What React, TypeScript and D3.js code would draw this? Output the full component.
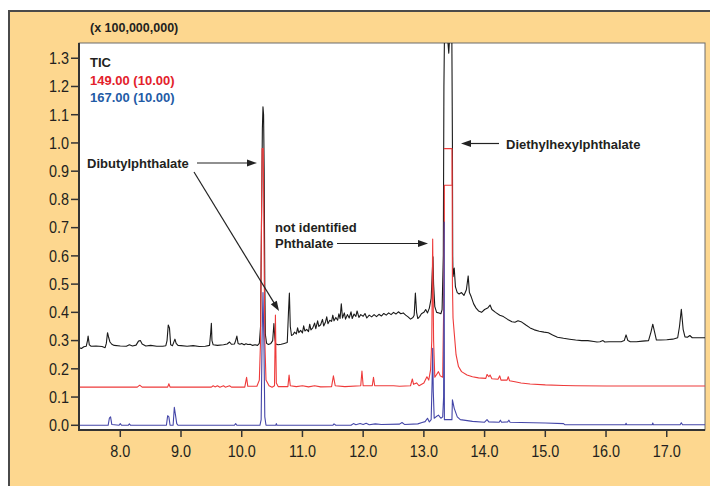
import React from "react";
import * as d3 from "d3";

// retention time (min) vs abundance (x 100,000,000)
const ticData: [number, number][] = [
  [7.32, 0.275], [7.36, 0.272], [7.4, 0.278], [7.44, 0.28], [7.46, 0.3], [7.47, 0.316], [7.49, 0.285], [7.52, 0.28],
  [7.6, 0.281], [7.7, 0.279], [7.75, 0.275], [7.77, 0.29], [7.79, 0.328], [7.81, 0.31], [7.83, 0.295], [7.86, 0.287],
  [7.9, 0.283], [8.0, 0.281], [8.1, 0.28], [8.15, 0.285], [8.2, 0.281], [8.26, 0.284], [8.3, 0.298], [8.33, 0.3],
  [8.36, 0.288], [8.42, 0.281], [8.5, 0.283], [8.6, 0.28], [8.7, 0.28], [8.75, 0.282], [8.77, 0.3], [8.79, 0.355],
  [8.81, 0.345], [8.83, 0.285], [8.86, 0.282], [8.9, 0.305], [8.92, 0.29], [8.95, 0.283], [9.0, 0.282], [9.1, 0.28],
  [9.2, 0.282], [9.3, 0.279], [9.4, 0.28], [9.47, 0.283], [9.49, 0.33], [9.5, 0.361], [9.51, 0.3], [9.53, 0.285],
  [9.6, 0.283], [9.7, 0.285], [9.76, 0.288], [9.8, 0.295], [9.83, 0.287], [9.88, 0.288], [9.9, 0.3], [9.92, 0.316],
  [9.94, 0.29], [9.97, 0.287], [10.0, 0.29], [10.04, 0.285], [10.07, 0.289], [10.1, 0.286], [10.14, 0.287],
  [10.18, 0.283], [10.22, 0.285], [10.26, 0.283], [10.29, 0.29], [10.31, 0.35], [10.325, 0.7], [10.34, 1.05],
  [10.35, 1.128], [10.36, 1.1], [10.37, 0.9], [10.38, 0.5], [10.39, 0.32], [10.41, 0.29], [10.44, 0.286],
  [10.48, 0.29], [10.51, 0.3], [10.53, 0.36], [10.545, 0.31], [10.56, 0.288], [10.6, 0.285], [10.65, 0.287],
  [10.7, 0.29], [10.75, 0.293], [10.77, 0.4], [10.785, 0.468], [10.8, 0.35], [10.82, 0.318], [10.85, 0.322],
  [10.87, 0.33], [10.9, 0.324], [10.92, 0.345], [10.94, 0.328], [10.97, 0.336], [11.0, 0.327], [11.02, 0.352],
  [11.04, 0.334], [11.07, 0.34], [11.1, 0.332], [11.12, 0.358], [11.14, 0.338], [11.17, 0.345], [11.2, 0.362],
  [11.22, 0.342], [11.25, 0.37], [11.27, 0.35], [11.3, 0.356], [11.33, 0.375], [11.35, 0.352], [11.38, 0.366],
  [11.4, 0.384], [11.42, 0.36], [11.45, 0.372], [11.48, 0.368], [11.5, 0.39], [11.52, 0.37], [11.55, 0.382],
  [11.58, 0.372], [11.6, 0.395], [11.62, 0.378], [11.64, 0.43], [11.66, 0.38], [11.69, 0.398], [11.71, 0.376],
  [11.74, 0.392], [11.77, 0.38], [11.8, 0.402], [11.82, 0.378], [11.85, 0.394], [11.88, 0.386], [11.9, 0.405],
  [11.93, 0.382], [11.96, 0.392], [12.0, 0.386], [12.03, 0.396], [12.06, 0.38], [12.1, 0.39], [12.14, 0.384],
  [12.18, 0.392], [12.22, 0.385], [12.26, 0.393], [12.3, 0.387], [12.34, 0.396], [12.38, 0.39], [12.42, 0.398],
  [12.46, 0.392], [12.5, 0.4], [12.54, 0.394], [12.58, 0.402], [12.62, 0.395], [12.66, 0.398], [12.7, 0.39],
  [12.74, 0.384], [12.78, 0.376], [12.82, 0.382], [12.84, 0.39], [12.86, 0.468], [12.88, 0.4], [12.9, 0.378],
  [12.93, 0.385], [12.96, 0.395], [13.0, 0.4], [13.03, 0.41], [13.06, 0.398], [13.09, 0.415], [13.12, 0.45],
  [13.14, 0.55], [13.15, 0.597], [13.16, 0.5], [13.18, 0.42], [13.21, 0.4], [13.25, 0.398], [13.28, 0.395],
  [13.3, 0.41], [13.32, 0.6], [13.33, 1.2], [13.34, 1.4], [13.38, 1.4], [13.41, 1.318], [13.43, 1.4],
  [13.46, 1.4], [13.47, 1.0], [13.475, 0.6], [13.48, 0.526], [13.5, 0.557], [13.52, 0.49], [13.55, 0.47],
  [13.58, 0.465], [13.62, 0.47], [13.66, 0.46], [13.7, 0.48], [13.73, 0.529], [13.75, 0.47], [13.78, 0.455],
  [13.82, 0.43], [13.86, 0.415], [13.9, 0.405], [13.95, 0.4], [14.0, 0.41], [14.05, 0.415], [14.09, 0.426],
  [14.12, 0.41], [14.18, 0.4], [14.25, 0.39], [14.31, 0.385], [14.38, 0.375], [14.45, 0.367], [14.5, 0.365],
  [14.55, 0.37], [14.6, 0.367], [14.68, 0.355], [14.75, 0.345], [14.82, 0.338], [14.9, 0.333], [14.98, 0.33],
  [15.05, 0.328], [15.12, 0.32], [15.2, 0.312], [15.3, 0.308], [15.4, 0.305], [15.5, 0.302], [15.6, 0.3],
  [15.7, 0.3], [15.8, 0.297], [15.85, 0.295], [15.9, 0.296], [15.95, 0.3], [15.98, 0.295], [16.05, 0.296],
  [16.15, 0.296], [16.25, 0.296], [16.3, 0.3], [16.33, 0.32], [16.36, 0.3], [16.4, 0.296], [16.5, 0.296],
  [16.6, 0.298], [16.7, 0.3], [16.74, 0.33], [16.77, 0.358], [16.8, 0.33], [16.83, 0.302], [16.9, 0.302],
  [17.0, 0.303], [17.1, 0.305], [17.18, 0.31], [17.21, 0.35], [17.24, 0.411], [17.27, 0.34], [17.3, 0.313],
  [17.34, 0.312], [17.38, 0.318], [17.42, 0.31], [17.5, 0.31], [17.63, 0.31],
];

const ion149Data: [number, number][] = [
  [7.32, 0.135], [8.28, 0.135], [8.32, 0.142], [8.36, 0.135], [8.78, 0.135], [8.8, 0.147], [8.82, 0.135],
  [9.5, 0.135], [9.53, 0.14], [9.56, 0.136], [9.6, 0.14], [9.64, 0.135], [9.7, 0.14], [9.73, 0.135], [9.8, 0.14],
  [9.83, 0.135], [10.05, 0.135], [10.08, 0.17], [10.1, 0.138], [10.25, 0.138], [10.29, 0.16], [10.31, 0.3],
  [10.325, 0.7], [10.335, 0.98], [10.355, 0.98], [10.365, 0.7], [10.38, 0.3], [10.4, 0.16], [10.45, 0.14],
  [10.5, 0.135], [10.54, 0.14], [10.555, 0.39], [10.57, 0.15], [10.6, 0.137], [10.76, 0.137], [10.78, 0.178],
  [10.8, 0.14], [10.9, 0.137], [11.0, 0.14], [11.1, 0.136], [11.2, 0.14], [11.3, 0.136], [11.48, 0.137],
  [11.51, 0.175], [11.54, 0.14], [11.7, 0.137], [11.96, 0.14], [11.98, 0.192], [12.0, 0.14], [12.15, 0.14],
  [12.17, 0.17], [12.19, 0.14], [12.5, 0.14], [12.6, 0.138], [12.78, 0.14], [12.81, 0.164], [12.83, 0.145],
  [12.88, 0.15], [12.92, 0.14], [13.0, 0.15], [13.05, 0.172], [13.08, 0.16], [13.11, 0.196], [13.13, 0.3],
  [13.145, 0.66], [13.16, 0.3], [13.18, 0.17], [13.21, 0.18], [13.24, 0.19], [13.27, 0.175], [13.31, 0.17],
  [13.325, 0.4], [13.337, 0.72], [13.337, 0.85], [13.463, 0.85], [13.463, 0.98], [13.337, 0.98], [13.463, 0.98],
  [13.466, 0.9], [13.47, 0.5], [13.48, 0.38], [13.5, 0.327], [13.53, 0.25], [13.57, 0.208], [13.62, 0.19],
  [13.71, 0.178], [13.8, 0.172], [13.9, 0.168], [14.02, 0.166], [14.04, 0.18], [14.07, 0.172], [14.09, 0.178],
  [14.12, 0.165], [14.22, 0.163], [14.25, 0.175], [14.27, 0.16], [14.37, 0.16], [14.39, 0.172], [14.41, 0.158],
  [14.5, 0.154], [14.6, 0.15], [14.75, 0.146], [15.0, 0.143], [15.3, 0.141], [15.5, 0.14], [16.0, 0.139],
  [17.63, 0.139],
];

const ion167Data: [number, number][] = [
  [7.32, 0.0], [7.8, 0.0], [7.82, 0.025], [7.84, 0.03], [7.86, 0.003], [7.98, 0.0], [8.0, 0.006], [8.02, 0.0],
  [8.13, 0.0], [8.15, 0.005], [8.17, 0.0], [8.76, 0.0], [8.78, 0.034], [8.8, 0.03], [8.82, 0.0], [8.87, 0.0],
  [8.89, 0.064], [8.91, 0.035], [8.93, 0.006], [8.95, 0.0], [9.88, 0.0], [9.9, 0.006], [9.92, 0.0], [10.3, 0.0],
  [10.32, 0.02], [10.335, 0.3], [10.35, 0.47], [10.365, 0.3], [10.38, 0.03], [10.4, 0.0], [10.56, 0.0],
  [10.57, 0.006], [10.58, 0.0], [11.5, 0.0], [11.52, 0.005], [11.55, 0.0], [11.8, 0.0], [11.84, 0.006],
  [11.88, 0.002], [11.95, 0.006], [12.0, 0.003], [12.05, 0.007], [12.1, 0.002], [12.2, 0.005], [12.3, 0.003],
  [12.6, 0.004], [12.64, 0.01], [12.68, 0.003], [12.9, 0.005], [12.97, 0.01], [13.02, 0.013], [13.06, 0.025],
  [13.09, 0.012], [13.12, 0.02], [13.135, 0.15], [13.145, 0.273], [13.155, 0.12], [13.17, 0.025], [13.2, 0.03],
  [13.24, 0.036], [13.28, 0.025], [13.31, 0.03], [13.325, 0.1], [13.335, 0.72], [13.338, 0.02], [13.462, 0.02],
  [13.47, 0.09], [13.48, 0.08], [13.5, 0.06], [13.55, 0.03], [13.6, 0.02], [13.8, 0.014], [14.0, 0.011],
  [14.04, 0.02], [14.07, 0.012], [14.24, 0.011], [14.26, 0.018], [14.28, 0.011], [14.38, 0.012], [14.4, 0.018],
  [14.42, 0.011], [14.6, 0.01], [15.0, 0.008], [15.3, 0.006], [15.32, 0.002], [16.0, 0.002], [16.32, 0.002],
  [16.33, 0.007], [16.34, 0.002], [16.76, 0.002], [16.77, 0.008], [16.78, 0.002], [17.22, 0.002], [17.24, 0.009],
  [17.26, 0.002], [17.63, 0.002],
];

const xTicks = [8, 9, 10, 11, 12, 13, 14, 15, 16, 17];
const yTicks = [0, 0.1, 0.2, 0.3, 0.4, 0.5, 0.6, 0.7, 0.8, 0.9, 1.0, 1.1, 1.2, 1.3];

const FONT = "'Liberation Sans', Arial, sans-serif";

const W = 710;
const H = 486;
const plot = { left: 79, top: 43, right: 705, bottom: 430 };

const ArrowHead = ({ x, y, angle }: { x: number; y: number; angle: number }) => (
  <path d="M0,0 L-10,-3.5 L-10,3.5 Z" fill="#222" transform={`translate(${x},${y}) rotate(${angle})`} />
);

// tick labels are a tall narrow face in the original: squeeze a bigger font horizontally
const TickText = ({ x, y, anchor, children }: { x: number; y: number; anchor: string; children: string }) => (
  <text transform={`translate(${x},${y}) scale(0.9,1)`} textAnchor={anchor} fontFamily={FONT}
    fontSize={16} fill="#231f20">{children}</text>
);

export default function App() {
  const x = d3.scaleLinear().domain([7.32, 17.63]).range([plot.left, plot.right]);
  const y = d3.scaleLinear().domain([-0.0167, 1.354]).range([plot.bottom, plot.top]);
  const line = d3.line<[number, number]>().x((d) => x(d[0])).y((d) => y(d[1]));

  // diagonal arrow for Dibutylphthalate
  const dx0 = 194, dy0 = 172, dx1 = 279, dy1 = 311;
  const dRad = Math.atan2(dy1 - dy0, dx1 - dx0);

  const label = { fontFamily: FONT, fontWeight: 700, fontSize: 13, fill: "#231f20" } as const;

  return (
    <svg width={W} height={H} style={{ position: "absolute", left: 0, top: 0 }}>
      <defs>
        <clipPath id="plotClip">
          <rect x={plot.left} y={plot.top} width={plot.right - plot.left} height={plot.bottom - plot.top} />
        </clipPath>
      </defs>
      <rect x={0} y={0} width={W} height={H} fill="#fff" />
      <rect x={9} y={11} width={W + 10} height={H + 10} fill="#fdd78f" stroke="#4a4a4a" strokeWidth={2} />
      <rect x={plot.left} y={plot.top} width={plot.right - plot.left} height={plot.bottom - plot.top}
        fill="#fff" stroke="#6d6d6d" strokeWidth={1} />

      <g clipPath="url(#plotClip)" fill="none" strokeWidth={1.1} strokeLinejoin="round">
        <path d={line(ticData) ?? ""} stroke="#1a1a1a" />
        <path d={line(ion149Data) ?? ""} stroke="#ee3a3a" />
        <path d={line(ion167Data) ?? ""} stroke="#4446a8" />
      </g>

      <line x1={plot.left} x2={plot.left} y1={plot.top} y2={plot.bottom + 1} stroke="#333" strokeWidth={2} />
      <line x1={plot.left - 1} x2={plot.right} y1={plot.bottom} y2={plot.bottom} stroke="#333" strokeWidth={2} />

      {yTicks.map((t) => (
        <g key={t}>
          <line x1={plot.left - 8} x2={plot.left} y1={y(t)} y2={y(t)} stroke="#333" strokeWidth={1.5} />
          <TickText x={plot.left - 10} y={y(t) + 5.8} anchor="end">{t.toFixed(1)}</TickText>
        </g>
      ))}
      {xTicks.map((t) => (
        <g key={t}>
          <line x1={x(t)} x2={x(t)} y1={plot.bottom} y2={plot.bottom + 7} stroke="#333" strokeWidth={1.5} />
          <TickText x={x(t)} y={457} anchor="middle">{t.toFixed(1)}</TickText>
        </g>
      ))}

      <text x={90} y={31.5} {...label} fontSize={12.5}>(x 100,000,000)</text>

      <text x={90} y={66.5} {...label}>TIC</text>
      <text x={90} y={84.5} {...label} fill="#e3212b">149.00 (10.00)</text>
      <text x={90} y={101.5} {...label} fill="#1f5ba6">167.00 (10.00)</text>

      {/* Dibutylphthalate */}
      <text x={87} y={168} {...label}>Dibutylphthalate</text>
      <line x1={197} x2={250} y1={163} y2={163} stroke="#222" strokeWidth={1.2} />
      <ArrowHead x={257} y={163} angle={0} />
      <line x1={dx0} y1={dy0} x2={dx1 - 8 * Math.cos(dRad)} y2={dy1 - 8 * Math.sin(dRad)}
        stroke="#222" strokeWidth={1.2} />
      <ArrowHead x={dx1} y={dy1} angle={(dRad * 180) / Math.PI} />

      {/* not identified Phthalate */}
      <text x={275} y={231.5} {...label}>not identified</text>
      <text x={275} y={248} {...label}>Phthalate</text>
      <line x1={337} x2={420} y1={243.5} y2={243.5} stroke="#222" strokeWidth={1.2} />
      <ArrowHead x={428} y={243.5} angle={0} />

      {/* Diethylhexylphthalate */}
      <line x1={469} x2={499} y1={143.5} y2={143.5} stroke="#222" strokeWidth={1.2} />
      <ArrowHead x={461} y={143.5} angle={180} />
      <text x={506} y={149.3} {...label}>Diethylhexylphthalate</text>
    </svg>
  );
}
